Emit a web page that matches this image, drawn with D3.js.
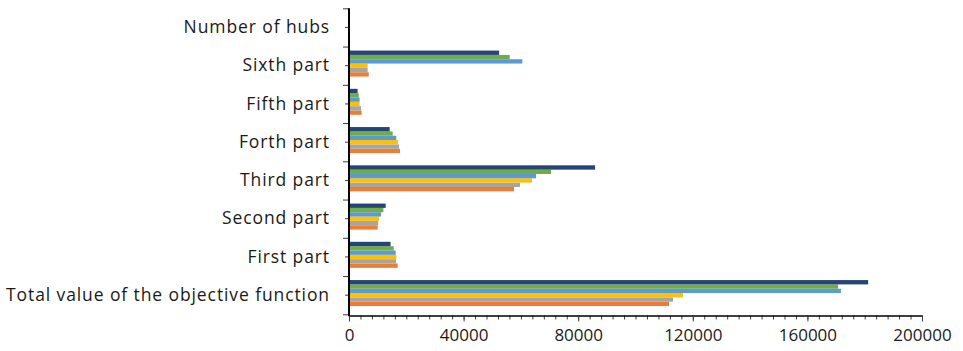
<!DOCTYPE html>
<html>
<head>
<meta charset="utf-8">
<script src="https://cdn.jsdelivr.net/npm/d3@7"></script>
<style>
  html, body { margin: 0; padding: 0; background: #fff; }
  svg { display: block; }
  .lbl text { font-family: "Open Sans", "Noto Sans", sans-serif; fill: #1a1a1a; }
  .ylbl text { font-size: 17.5px; letter-spacing: 0.9px; }
  .xlbl text { font-size: 17px; }
</style>
</head>
<body>
<svg id="chart" width="963" height="351"></svg>
<script>
// Categories, bottom to top
const categories = [
  "Total value of the objective function",
  "First part",
  "Second part",
  "Third part",
  "Forth part",
  "Fifth part",
  "Sixth part",
  "Number of hubs"
];

// One array per case, values in category order
const case1 = [111700, 17000, 10000, 57600, 17800, 4400, 6900, 6];
const case2 = [113100, 16400, 10200, 59700, 17450, 4200, 6500, 5];
const case3 = [116600, 16500, 10500, 63900, 17100, 3700, 6500, 5];
const case4 = [171700, 16300, 11200, 65300, 16500, 3700, 60500, 4];
const case5 = [170700, 15600, 12000, 70500, 15250, 3400, 56100, 4];
const case6 = [181200, 14500, 12800, 85900, 14200, 3000, 52400, 3];

const seriesNames = ["Case 1", "Case 2", "Case 3", "Case 4", "Case 5", "Case 6"];
const seriesValues = [case1, case2, case3, case4, case5, case6];
const seriesColors = ["#ED7D31", "#A5A5A5", "#FFC000", "#5B9BD5", "#70AD47", "#264478"];

const xTicks = [0, 40000, 80000, 120000, 160000, 200000];

const svg = d3.select("#chart");

const x = d3.scaleLinear().domain([0, 200000]).range([349, 922]);
const y = d3.scaleBand()
  .domain(categories.slice().reverse())
  .range([8.3, 314.3])
  .padding(0);

// Within each category the last case sits at the top
const inner = d3.scaleBand()
  .domain(seriesNames.slice().reverse())
  .range([y.bandwidth() * 0.105, y.bandwidth() * 0.785])
  .padding(0);

const rows = [];
seriesNames.forEach((name, si) => {
  categories.forEach((cat, ci) => {
    rows.push({ name, cat, value: seriesValues[si][ci], color: seriesColors[si] });
  });
});

// Bars
svg.append("g")
  .selectAll("rect")
  .data(rows)
  .join("rect")
  .attr("x", x(0))
  .attr("y", d => y(d.cat) + inner(d.name))
  .attr("width", d => x(d.value) - x(0))
  .attr("height", inner.bandwidth())
  .attr("fill", d => d.color);

// X axis: minor ticks
const xMinor = svg.append("g")
  .attr("transform", "translate(0,315.5)")
  .call(d3.axisBottom(x).tickValues(d3.range(0, 200001, 4000)).tickSize(4).tickSizeOuter(0).tickFormat(""));
xMinor.select(".domain").remove();
xMinor.selectAll("line").attr("stroke", "#404040");

// X axis: major ticks and labels
const xMajor = svg.append("g")
  .attr("class", "lbl xlbl")
  .attr("transform", "translate(0,315.5)")
  .call(d3.axisBottom(x).tickValues(xTicks).tickSize(6).tickSizeOuter(0).tickPadding(7).tickFormat(d3.format("d")));
xMajor.select(".domain").attr("stroke", "#000").attr("stroke-width", 1.6);
xMajor.selectAll("line").attr("stroke", "#404040");
xMajor.selectAll("text").attr("font-family", null).attr("font-size", null);

// Y axis: boundary ticks between categories
const yEdges = d3.scaleLinear().domain([0, categories.length]).range([314.3, 8.3]);
const yMajor = svg.append("g")
  .attr("transform", "translate(349,0)")
  .call(d3.axisLeft(yEdges).tickValues(d3.range(categories.length + 1)).tickSize(6).tickSizeOuter(0).tickFormat(""));
yMajor.select(".domain").remove();
yMajor.selectAll("line").attr("stroke", "#404040");

// Y axis: centre ticks and category labels
const yAxis = svg.append("g")
  .attr("class", "lbl ylbl")
  .attr("transform", "translate(349,0)")
  .call(d3.axisLeft(y).tickSize(4).tickSizeOuter(0).tickPadding(15));
yAxis.select(".domain").remove();
yAxis.selectAll("line").attr("stroke", "#404040");
yAxis.selectAll("text").attr("font-family", null).attr("font-size", null);

// Vertical axis line
svg.append("line")
  .attr("x1", 349).attr("x2", 349)
  .attr("y1", 8.3).attr("y2", 316.3)
  .attr("stroke", "#000")
  .attr("stroke-width", 2);
</script>
</body>
</html>
